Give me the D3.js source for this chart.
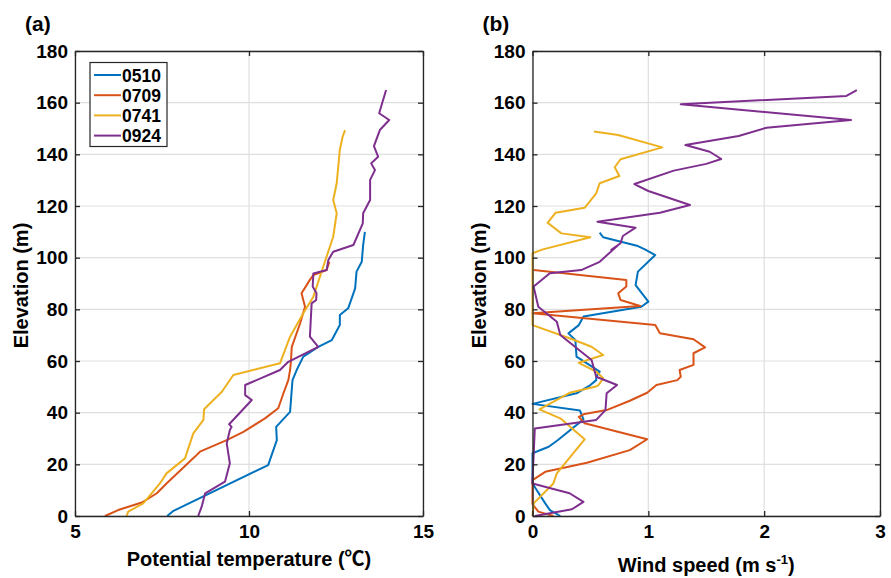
<!DOCTYPE html>
<html>
<head>
<meta charset="utf-8">
<script src="https://cdn.jsdelivr.net/npm/d3@7"></script>
<style>
body { margin: 0; background: #fff; }
svg text { font-family: "Liberation Sans", Arial, sans-serif; font-weight: bold; fill: #000; }
</style>
</head>
<body>
<script>
// series names and colours (MATLAB default order)
var names = ["0510", "0709", "0741", "0924"];
var colors = ["#0072BD", "#D95319", "#EDB120", "#7E2F8E"];

var yTicks = [0, 20, 40, 60, 80, 100, 120, 140, 160, 180];
var tTicks = [5, 10, 15];
var wTicks = [0, 1, 2, 3];

// (a) potential temperature profiles: [temperature, elevation]
var temp0510 = [[7.65,0],[7.83,2],[10.55,19.7],[10.8,29.4],[10.78,34.5],[11.18,40.3],[11.25,52.6],[11.37,56.5],[11.56,61.7],[11.99,65.5],[12.38,68.1],[12.61,73.9],[12.61,77.8],[12.85,80.4],[13.05,88.1],[13.09,94.6],[13.24,98.4],[13.28,104.9],[13.33,110]];
var temp0709 = [[5.86,0],[6.24,2.3],[6.92,5.2],[7.35,8.8],[7.63,12.6],[8.45,23],[8.59,24.9],[9.36,29.4],[9.84,32.6],[10.46,37.8],[10.84,41.7],[10.99,47.5],[11.13,52.6],[11.18,56.5],[11.2,59],[11.23,65.5],[11.47,74.6],[11.61,81],[11.51,86.2],[11.75,91.4],[11.85,93.3],[12.23,95.2],[12.31,98.4]];
var temp0741 = [[6.48,0],[6.53,1.7],[6.96,4.9],[7.16,8.1],[7.44,12.6],[7.63,16.5],[8.16,22.3],[8.4,32],[8.69,37.2],[8.71,41.3],[9.22,48.1],[9.55,54.6],[10.89,59.1],[11.18,69.4],[11.56,78.5],[11.85,84.9],[12.18,98.4],[12.42,108.1],[12.52,117.2],[12.42,122.3],[12.52,128.8],[12.61,141.7],[12.69,146.8],[12.76,149.4]];
var temp0924 = [[8.54,0],[8.64,3.6],[8.74,8.8],[9.31,13.3],[9.45,20.4],[9.36,28.1],[9.45,33.3],[9.5,34.5],[9.43,35.5],[10.08,44.9],[9.89,46.8],[9.89,50.7],[10.89,56.5],[11.13,59.7],[11.99,65.5],[11.75,69.4],[11.8,82.3],[11.93,83.6],[11.94,86.2],[11.83,88.8],[11.85,93.9],[12.23,95.2],[12.28,99.1],[12.42,102.3],[13.0,104.9],[13.27,113.3],[13.28,117.2],[13.48,122.3],[13.48,124.9],[13.48,130.1],[13.62,133.9],[13.51,136.5],[13.71,139.1],[13.59,143.2],[13.76,149.4],[14.03,153.3],[13.74,155.9],[13.81,159.1],[13.94,164.9]];

// (b) wind speed profiles: [speed, elevation]
var wind0510 = [[0.24,0],[0.15,2.3],[0.11,4.9],[0,12.6],[0,24.3],[0.14,26.8],[0.22,29.4],[0.44,37.4],[0.41,40.8],[0,43.4],[0.38,47.5],[0.5,50.7],[0.55,52.6],[0.55,53.9],[0.58,55.9],[0.47,59.1],[0.38,61.7],[0.37,68.1],[0.31,70.7],[0.4,73.9],[0.44,77.2],[0.94,81],[1.0,83],[0.89,89.4],[0.91,94.6],[1.06,101],[0.97,103.2],[0.91,104.5],[0.61,107.9],[0.58,109.7]];
var wind0709 = [[0.18,0],[0.05,1.7],[0,4.6],[0,13.9],[0.11,17.1],[0.47,20.6],[0.84,25.5],[0.99,29.7],[0.45,35.9],[0.4,38.4],[0.45,39.5],[0.64,41],[0.84,44.6],[0.99,47.7],[1.07,50.7],[1.25,52.6],[1.28,53.9],[1.27,56.5],[1.39,58.5],[1.39,63],[1.49,65.3],[1.39,68.4],[1.1,70.7],[1.06,73.9],[0,78.5],[0.93,81.3],[0.76,83.6],[0.74,86.2],[0.81,88.8],[0.81,91.4],[0.01,95.2]];
var wind0741 = [[0,0],[0.01,4.9],[0.18,12.6],[0.21,16.5],[0.45,29.7],[0.24,37.8],[0.06,41.3],[0.32,47.7],[0.54,50],[0.57,50.7],[0.61,53.3],[0.55,55.9],[0.4,59.3],[0.61,62.3],[0.51,65.5],[0.32,68.8],[0,73.9],[0,101.7],[0.09,103.2],[0.5,107.9],[0.25,109.4],[0.13,113.5],[0.2,117.4],[0.45,119.3],[0.55,124.9],[0.58,128.8],[0.75,131.6],[0.71,135],[0.76,138.1],[1.12,142.7],[0.74,147.5],[0.53,148.8]];
var wind0924 = [[0.02,0],[0.34,2.6],[0.44,5.5],[0.32,8.8],[0,12.6],[0,13.9],[0.02,33.9],[0.55,37.2],[0.63,41],[0.64,47.5],[0.73,50.7],[0.55,53.9],[0.51,60.4],[0.24,70.1],[0.21,75.2],[0.05,81],[0.01,88.8],[0.15,94],[0.42,95.2],[0.58,98.4],[0.74,104.9],[0.68,103],[0.76,105.6],[0.78,108.4],[0.89,111.6],[0.56,113.9],[1.1,117.4],[1.36,120.4],[1.0,125.8],[0.88,128.5],[1.22,133.7],[1.5,136.3],[1.63,138.2],[1.53,141],[1.32,143.6],[1.78,147.1],[2.02,150.3],[2.75,153.3],[1.28,159.4],[2.71,162.6],[2.8,164.9]];

var tempSeries = [temp0510, temp0709, temp0741, temp0924];
var windSeries = [wind0510, wind0709, wind0741, wind0924];

var W = 891, H = 578;
var svg = d3.select("body").append("svg").attr("width", W).attr("height", H);

var plotTop = 51, plotBottom = 516;
var y = d3.scaleLinear().domain([0, 180]).range([plotBottom, plotTop]);

function panel(x0, x1, domain, ticks, series, tag, xlabelFn) {
  var x = d3.scaleLinear().domain(domain).range([x0, x1]);
  var g = svg.append("g");

  // grid
  g.selectAll(".gx").data(ticks).enter().append("line")
    .attr("x1", function(d){ return x(d); }).attr("x2", function(d){ return x(d); })
    .attr("y1", plotTop).attr("y2", plotBottom)
    .attr("stroke", "#dfdfdf").attr("stroke-width", 1.2);
  g.selectAll(".gy").data(yTicks).enter().append("line")
    .attr("x1", x0).attr("x2", x1)
    .attr("y1", function(d){ return y(d); }).attr("y2", function(d){ return y(d); })
    .attr("stroke", "#dfdfdf").attr("stroke-width", 1.2);

  // lines
  var line = d3.line().x(function(d){ return x(d[0]); }).y(function(d){ return y(d[1]); });
  series.forEach(function(s, i) {
    g.append("path").datum(s).attr("d", line)
      .attr("fill", "none").attr("stroke", colors[i]).attr("stroke-width", 2)
      .attr("stroke-linejoin", "round");
  });

  // axes, ticks inward on all sides
  var fmt = d3.format("d");
  var axL = d3.axisLeft(y).tickValues(yTicks).tickFormat(fmt).tickSizeInner(-5).tickSizeOuter(0).tickPadding(7);
  var axR = d3.axisRight(y).tickValues(yTicks).tickSizeInner(-5).tickSizeOuter(0).tickFormat("");
  var axB = d3.axisBottom(x).tickValues(ticks).tickFormat(fmt).tickSizeInner(-5).tickSizeOuter(0).tickPadding(9);
  var axT = d3.axisTop(x).tickValues(ticks).tickSizeInner(-5).tickSizeOuter(0).tickFormat("");
  [[axL, "translate(" + x0 + ",0)"], [axR, "translate(" + x1 + ",0)"],
   [axB, "translate(0," + plotBottom + ")"], [axT, "translate(0," + plotTop + ")"]].forEach(function(a) {
    var ag = g.append("g").attr("transform", a[1]).call(a[0]);
    ag.select(".domain").attr("stroke", "#262626").attr("stroke-width", 1.3);
    ag.selectAll(".tick line").attr("stroke", "#262626").attr("stroke-width", 1.3);
    ag.selectAll(".tick text").style("font-size", "19px").style("font-family", "'Liberation Sans', Arial, sans-serif").style("font-weight", "bold").attr("fill", "#000");
  });

  // labels
  svg.append("text").attr("transform", "translate(" + (x0 - 47) + "," + ((plotTop + plotBottom) / 2 + 2) + ") rotate(-90)")
    .attr("text-anchor", "middle").style("font-size", "20px").text("Elevation (m)");
  xlabelFn(svg.append("text").attr("x", (x0 + x1) / 2).attr("text-anchor", "middle").style("font-size", "20px"));
  svg.append("text").attr("x", x0 - 50).attr("y", 31).style("font-size", "21px").text(tag);
  return x;
}

panel(75, 423, [5, 15], tTicks, tempSeries, "(a)", function(t) {
  t.attr("y", 566);
  t.append("tspan").text("Potential temperature (");
  t.append("tspan").style("font-family", "'Noto Sans CJK SC', sans-serif").text("\u2103");
  t.append("tspan").text(")");
});
panel(532.5, 880, [0, 3], wTicks, windSeries, "(b)", function(t) {
  t.attr("y", 572);
  t.append("tspan").text("Wind speed (m s");
  t.append("tspan").attr("dy", -8).style("font-size", "13px").text("-1");
  t.append("tspan").attr("dy", 8).text(")");
});

// legend in panel (a)
var leg = svg.append("g").attr("transform", "translate(90,62.5)");
leg.append("rect").attr("width", 77).attr("height", 84)
  .attr("fill", "#fff").attr("stroke", "#262626").attr("stroke-width", 1.2);
names.forEach(function(n, i) {
  var yy = 12.5 + i * 20.2;
  leg.append("line").attr("x1", 4).attr("x2", 31).attr("y1", yy).attr("y2", yy)
    .attr("stroke", colors[i]).attr("stroke-width", 2);
  leg.append("text").attr("x", 32).attr("y", yy + 6.5).style("font-size", "17.5px").text(n);
});
</script>
</body>
</html>
